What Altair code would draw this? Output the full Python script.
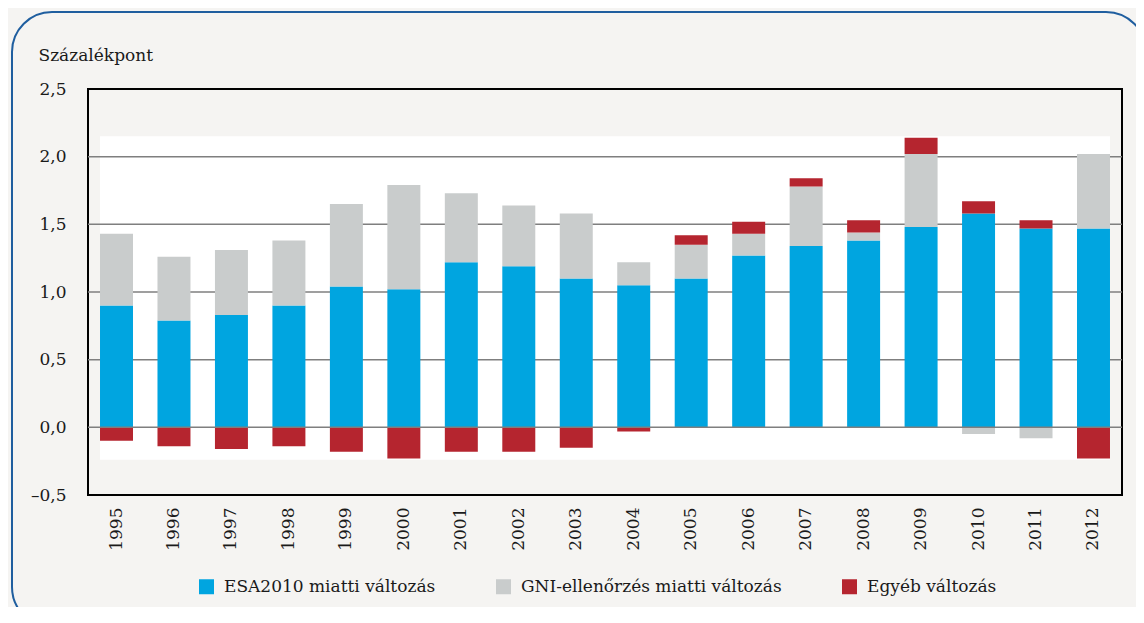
import altair as alt
import pandas as pd

years = ["1995", "1996", "1997", "1998", "1999", "2000", "2001", "2002", "2003",
         "2004", "2005", "2006", "2007", "2008", "2009", "2010", "2011", "2012"]
esa = [0.90, 0.79, 0.83, 0.90, 1.04, 1.02, 1.22, 1.19, 1.10,
       1.05, 1.10, 1.27, 1.34, 1.38, 1.48, 1.58, 1.47, 1.47]
gni = [0.53, 0.47, 0.48, 0.48, 0.61, 0.77, 0.51, 0.45, 0.48,
       0.17, 0.25, 0.16, 0.44, 0.06, 0.54, -0.05, -0.08, 0.55]
other = [-0.10, -0.14, -0.16, -0.14, -0.18, -0.23, -0.18, -0.18, -0.15,
         -0.03, 0.07, 0.09, 0.06, 0.09, 0.12, 0.09, 0.06, -0.23]
series = ["ESA2010 miatti változás", "GNI-ellenőrzés miatti változás", "Egyéb változás"]
colors = ["#00A5E0", "#C9CCCC", "#B5252F"]
grid_values = [0.5, 1.0, 1.5, 2.0]
y_ticks = [-0.5, 0.0, 0.5, 1.0, 1.5, 2.0, 2.5]

rows = []
for i, y in enumerate(years):
    for k, (name, vals) in enumerate(zip(series, [esa, gni, other])):
        rows.append({"year": y, "series": name, "value": vals[i], "ord": k})
df = pd.DataFrame(rows)
one = pd.DataFrame({"a": [0]})
grid_df = pd.DataFrame({"v": grid_values})

FONT = "DejaVu Serif"
FS = 17
ydom = [-0.5, 2.5]

xscale = alt.Scale(domain=years, paddingInner=0.426, paddingOuter=0.209)
yscale = alt.Scale(domain=ydom, nice=False, zero=False)

border = alt.Chart(one).mark_rect(
    filled=False, stroke="#1F5E9F", strokeWidth=2, cornerRadius=40
).encode(
    x=alt.value(-76), x2=alt.value(1058), y=alt.value(-77), y2=alt.value(538)
)

white = alt.Chart(one).mark_rect(color="white").encode(
    x=alt.X(datum=years[0], type="nominal", bandPosition=0, scale=xscale),
    x2=alt.X2(datum=years[-1], bandPosition=1),
    y=alt.Y(datum=2.15, type="quantitative", scale=yscale),
    y2=alt.Y2(datum=-0.24),
)

grid = alt.Chart(grid_df).mark_rule(color="#7F7F7F", strokeWidth=1.5).encode(
    y=alt.Y("v:Q", scale=yscale)
)

label_expr = ("datum.value < 0 ? '–' + replace(format(abs(datum.value), '.1f'), '.', ',') "
              ": replace(format(datum.value, '.1f'), '.', ',')")

bars = alt.Chart(df).mark_bar().encode(
    x=alt.X("year:N", sort=years, scale=xscale,
            axis=alt.Axis(title=None, labelAngle=-90, labelFont=FONT, labelFontSize=FS,
                          labelColor="#1a1a1a", labelPadding=12, ticks=False,
                          domain=False, grid=False)),
    y=alt.Y("value:Q", scale=yscale, stack="zero",
            axis=alt.Axis(values=y_ticks, labelExpr=label_expr, labelFont=FONT,
                          labelFontSize=FS, labelColor="#1a1a1a", labelPadding=22,
                          ticks=False, domain=False, grid=False,
                          title="Százalékpont", titleAngle=0, titleAlign="left",
                          titleBaseline="alphabetic", titleX=-50, titleY=-29,
                          titleFont=FONT, titleFontSize=FS, titleFontWeight="normal",
                          titleColor="#1a1a1a")),
    color=alt.Color("series:N", scale=alt.Scale(domain=series, range=colors),
                    legend=alt.Legend(title=None, orient="none", direction="horizontal",
                                      legendX=110, legendY=489, symbolType="square",
                                      symbolSize=225, symbolStrokeWidth=0,
                                      labelFont=FONT, labelFontSize=FS,
                                      labelColor="#1a1a1a", labelLimit=500,
                                      labelOffset=9, columnPadding=59, padding=0)),
    order=alt.Order("ord:Q"),
)

zero = alt.Chart(one).mark_rule(color="#7F7F7F", strokeWidth=1.5).encode(
    y=alt.Y(datum=0, type="quantitative", scale=yscale)
)

chart = alt.layer(border, white, grid, bars, zero).properties(
    width=1034, height=406,
    autosize=alt.AutoSizeParams(type="none"),
    padding={"left": 80, "top": 81, "right": 14, "bottom": 112},
    background="#F5F4F2",
).configure(
    font=FONT,
    view=alt.ViewConfig(stroke="#000000", strokeWidth=2),
)

chart.save("out.html", embed_options={"renderer": "svg", "actions": False})
